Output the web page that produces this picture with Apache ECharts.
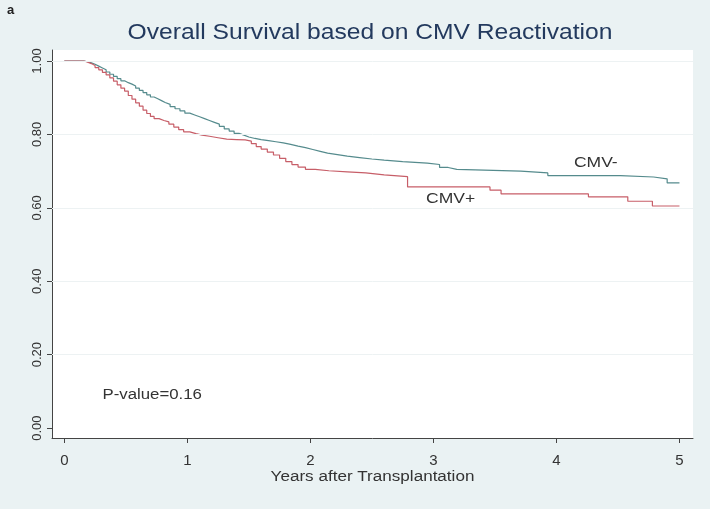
<!DOCTYPE html>
<html>
<head>
<meta charset="utf-8">
<script src="https://cdn.jsdelivr.net/npm/echarts@6/dist/echarts.min.js"></script>
<style>
html,body{margin:0;padding:0;background:#eaf2f3;}
#c{width:710px;height:509px;}
</style>
</head>
<body>
<div id="c"></div>
<script>
// Kaplan-Meier estimates
const cmvNegTimes = [0,0.12,0.16,0.19,0.22,0.25,0.28,0.31,0.34,0.37,0.40,0.43,0.46,0.49,0.52,0.55,0.58,0.61,0.64,0.67,0.70,0.73,0.76,0.79,0.82,0.86,0.90,0.94,0.98,1.02,1.06,1.10,1.14,1.18,1.22,1.26,1.30,1.34,1.38,1.42,1.46,1.50,1.55,1.60,1.66,1.72,1.78,1.84,1.90,1.96,2.02,2.08,2.14,2.22,2.30,2.40,2.50,2.60,2.75,2.95,3.05,3.12,3.19,3.71,3.93,4.52,4.79,4.9,5.0];
const cmvNegSurv  = [1.0,1.0,0.998,0.995,0.991,0.986,0.981,0.976,0.97,0.964,0.958,0.952,0.946,0.941,0.937,0.932,0.926,0.92,0.914,0.908,0.902,0.897,0.892,0.887,0.882,0.876,0.87,0.864,0.858,0.853,0.848,0.843,0.838,0.833,0.828,0.822,0.815,0.809,0.803,0.798,0.793,0.789,0.786,0.783,0.78,0.777,0.773,0.768,0.764,0.759,0.754,0.749,0.745,0.741,0.737,0.733,0.73,0.726,0.722,0.718,0.71,0.705,0.70,0.695,0.688,0.684,0.679,0.668,0.667];

const cmvPosTimes = [0,0.12,0.16,0.19,0.22,0.25,0.28,0.31,0.34,0.37,0.40,0.43,0.46,0.49,0.52,0.55,0.58,0.61,0.64,0.67,0.70,0.73,0.77,0.81,0.85,0.89,0.93,0.97,1.02,1.07,1.12,1.18,1.25,1.32,1.40,1.47,1.52,1.56,1.60,1.65,1.70,1.75,1.80,1.85,1.90,1.96,2.04,2.15,2.30,2.45,2.60,2.79,3.46,3.55,4.26,4.58,4.78,5.0];
const cmvPosSurv  = [1.0,1.0,0.997,0.993,0.988,0.982,0.976,0.969,0.962,0.954,0.945,0.935,0.926,0.918,0.906,0.896,0.886,0.877,0.866,0.857,0.849,0.843,0.838,0.834,0.828,0.82,0.813,0.807,0.802,0.798,0.795,0.791,0.787,0.786,0.785,0.782,0.775,0.767,0.76,0.752,0.744,0.735,0.726,0.718,0.711,0.705,0.701,0.698,0.695,0.69,0.685,0.657,0.648,0.638,0.63,0.618,0.605,0.605];

const xTicks = [0,1,2,3,4,5];
const yTicks = [0,0.2,0.4,0.6,0.8,1.0];
const titleText = 'Overall Survival based on CMV Reactivation';
const xTitle = 'Years after Transplantation';
const seriesNames = ['CMV-','CMV+'];
const pText = 'P-value=0.16';
// annotation anchors in data units [years, survival]
const negLabelAt = [4.32, 0.722];
const posLabelAt = [3.14, 0.624];
const pLabelAt = [0.31, 0.09];

const pair = (t, s) => t.map((v, i) => [v, s[i]]);

const chart = echarts.init(document.getElementById('c'), null, {renderer:'canvas'});
const font = 'Liberation Sans, Arial, sans-serif';

chart.setOption({
  backgroundColor: '#eaf2f3',
  animation: false,
  grid: {left: 52, right: 17, top: 50, bottom: 71, show: true, backgroundColor: '#ffffff', borderWidth: 0},
  xAxis: {
    type: 'value', min: -0.1, max: 5.11,
    axisLine: {show: true, onZero: false, lineStyle: {color: '#444', width: 1}},
    axisTick: {show: true, customValues: xTicks, length: 5, inside: false, lineStyle: {color: '#444'}},
    axisLabel: {customValues: xTicks, margin: 15, fontFamily: font, fontSize: 15, color: '#333', formatter: v => String(v)},
    splitLine: {show: false}
  },
  yAxis: {
    type: 'value', min: -0.027, max: 1.03,
    axisLine: {show: true, onZero: false, lineStyle: {color: '#444', width: 1}},
    axisTick: {show: true, customValues: yTicks, length: 5, lineStyle: {color: '#444'}},
    axisLabel: {customValues: yTicks, rotate: 90, margin: 8, fontFamily: font, fontSize: 13, color: '#333', formatter: v => v.toFixed(2)},
    splitLine: {show: false}
  },
  series: [
    {
      name: seriesNames[0], type: 'line', step: 'end', symbol: 'none',
      data: pair(cmvNegTimes, cmvNegSurv),
      lineStyle: {color: '#558b8d', width: 1.2},
      markLine: {
        silent: true, symbol: 'none', label: {show: false},
        lineStyle: {color: '#edf2f3', width: 1, type: 'solid'},
        data: yTicks.slice(1).map(v => ({yAxis: v}))
      }
    },
    {
      name: seriesNames[1], type: 'line', step: 'end', symbol: 'none',
      data: pair(cmvPosTimes, cmvPosSurv),
      lineStyle: {color: '#c75e68', width: 1.2}
    }
  ]
});

const textEl = (pt, txt, size, sx, align, color) => ({
  type: 'text', x: pt[0], y: pt[1], scaleX: sx, silent: true,
  style: {x: 0, y: 0, text: txt, font: size + 'px ' + font, fill: color, textAlign: align, textVerticalAlign: 'middle'}
});

const toPx = p => chart.convertToPixel({gridIndex: 0}, p);
const gridRect = chart.getModel().getComponent('grid').coordinateSystem.getRect();

chart.setOption({
  graphic: [
    {type: 'text', left: 7, top: 4, silent: true, style: {text: 'a', font: 'bold 13px ' + font, fill: '#222'}},
    textEl([370, 33], titleText, 22, 1.12, 'center', '#233a5e'),
    textEl([gridRect.x + gridRect.width / 2, 477], xTitle, 14, 1.22, 'center', '#333'),
    textEl(toPx(negLabelAt), seriesNames[0], 14, 1.25, 'center', '#333'),
    textEl(toPx(posLabelAt), seriesNames[1], 14, 1.25, 'center', '#333'),
    textEl(toPx(pLabelAt), pText, 14, 1.2, 'left', '#333')
  ]
});
</script>
</body>
</html>
